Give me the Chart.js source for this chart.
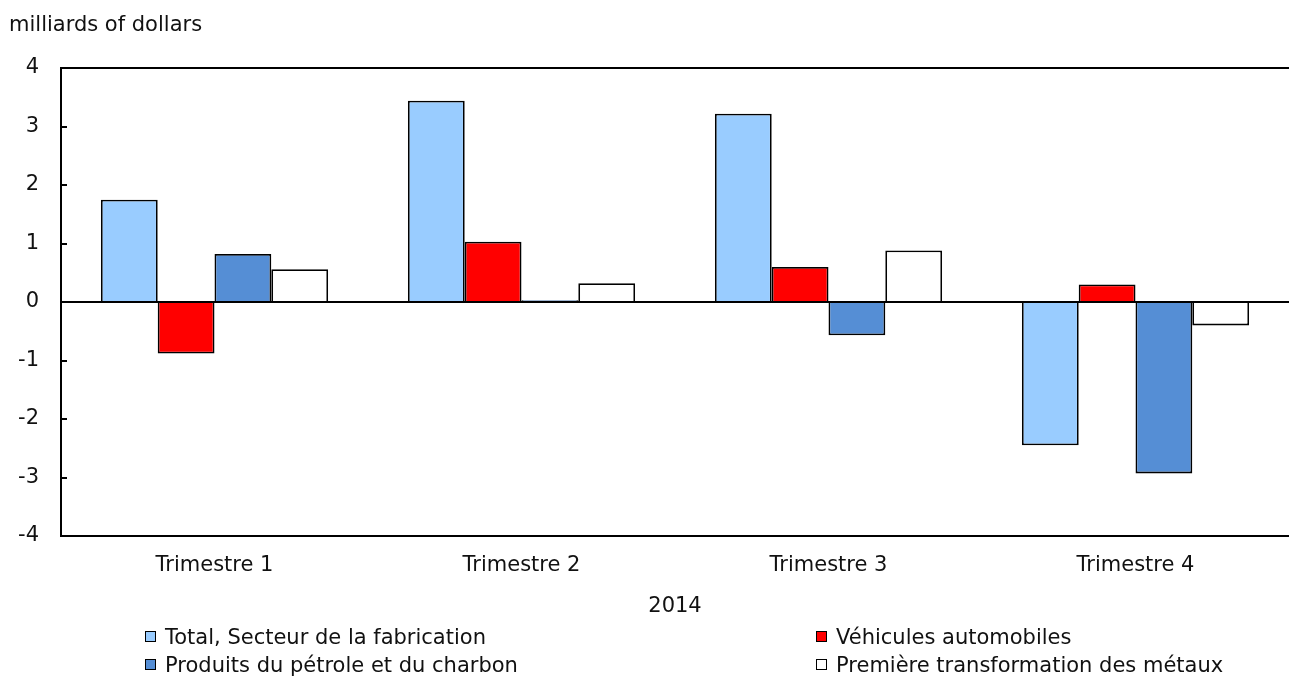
<!DOCTYPE html>
<html>
<head>
<meta charset="utf-8">
<script src="https://cdn.jsdelivr.net/npm/chart.js@4.4.0/dist/chart.umd.min.js"></script>
<style>
  html, body { margin: 0; padding: 0; background: #fff; }
  body { width: 1289px; height: 681px; position: relative; overflow: hidden;
         font-family: "DejaVu Sans", Verdana, sans-serif; color: #111; }
  #wrap { position: absolute; left: 0; top: 0; width: 1289px; height: 681px; }
  #unit { position: absolute; left: 9px; top: 12px; font-size: 21px; }
  .leg { position: absolute; font-size: 21px; white-space: nowrap; line-height: 20px; }
  .leg i { display: inline-block; width: 9px; height: 9px; border: 1px solid #000;
           margin-right: 9px; vertical-align: 2px; }
</style>
</head>
<body>
<div id="wrap"><canvas id="c"></canvas></div>
<div id="unit">milliards of dollars</div>
<div id="legend"></div>

<script>
// ── Données ──
const categories = ['Trimestre 1', 'Trimestre 2', 'Trimestre 3', 'Trimestre 4'];
const totalFab   = [1.75, 3.44, 3.22, -2.45];
const vehicules  = [-0.88, 1.03, 0.60, 0.30];
const petrole    = [0.82, 0.03, -0.57, -2.93];
const metaux     = [0.56, 0.32, 0.88, -0.40];
const yTicks     = [-4, -3, -2, -1, 0, 1, 2, 3, 4];
const xTitle     = '2014';

const series = [
  { label: 'Total, Secteur de la fabrication',   data: totalFab,  color: '#99ccff' },
  { label: 'Véhicules automobiles',              data: vehicules, color: '#ff0000' },
  { label: 'Produits du pétrole et du charbon',  data: petrole,   color: '#558ed5' },
  { label: 'Première transformation des métaux', data: metaux,    color: '#ffffff' }
];

const FONT = '"DejaVu Sans", Verdana, sans-serif';
const FSIZE = 21;

/* petits traits vers l'intérieur + bordure du haut */
const framePlugin = {
  id: 'frame',
  afterDraw(chart) {
    const { ctx, chartArea: a, scales: { y } } = chart;
    ctx.save();
    ctx.strokeStyle = '#000';
    ctx.lineWidth = 2;
    ctx.beginPath();
    ctx.moveTo(a.left, a.top);
    ctx.lineTo(a.right, a.top);
    yTicks.forEach(v => {
      const py = Math.round(y.getPixelForValue(v));
      ctx.moveTo(a.left, py);
      ctx.lineTo(a.left + 6, py);
    });
    ctx.stroke();
    ctx.restore();
  }
};

new Chart(document.getElementById('c'), {
  type: 'bar',
  data: {
    labels: categories,
    datasets: series.map(s => ({
      label: s.label,
      data: s.data,
      backgroundColor: s.color,
      borderColor: '#000',
      borderWidth: 1.8,
      barPercentage: 1,
      categoryPercentage: 0.74
    }))
  },
  options: {
    responsive: true,
    maintainAspectRatio: false,
    animation: false,
    layout: { padding: { top: 68, left: 0, right: 0, bottom: 62 } },
    plugins: { legend: { display: false }, tooltip: { enabled: false } },
    scales: {
      x: {
        grid: { display: false },
        border: { display: true, color: '#000', width: 2 },
        ticks: { color: '#111', font: { family: FONT, size: FSIZE }, padding: 9 },
        title: { display: true, text: xTitle, color: '#111', font: { family: FONT, size: FSIZE }, padding: 0 },
        afterFit(s) { s.height = 83; }
      },
      y: {
        min: -4, max: 4,
        afterBuildTicks(s) { s.ticks = yTicks.map(v => ({ value: v })); },
        grid: {
          drawTicks: false,
          lineWidth: 2,
          color: c => c.tick && c.tick.value === 0 ? '#000' : 'rgba(0,0,0,0)'
        },
        border: { display: true, color: '#000', width: 2 },
        ticks: { color: '#111', font: { family: FONT, size: FSIZE }, padding: 22 },
        afterFit(s) { s.width = 61; }
      }
    }
  },
  plugins: [framePlugin]
});

// ── Légende HTML ──
const legPos = [[145, 627], [816, 627], [145, 655], [816, 655]];
const legEl = document.getElementById('legend');
series.forEach((s, i) => {
  const d = document.createElement('div');
  d.className = 'leg';
  d.style.left = legPos[i][0] + 'px';
  d.style.top = legPos[i][1] + 'px';
  d.innerHTML = '<i style="background:' + s.color + '"></i>' + s.label;
  legEl.appendChild(d);
});
</script>
</body>
</html>
